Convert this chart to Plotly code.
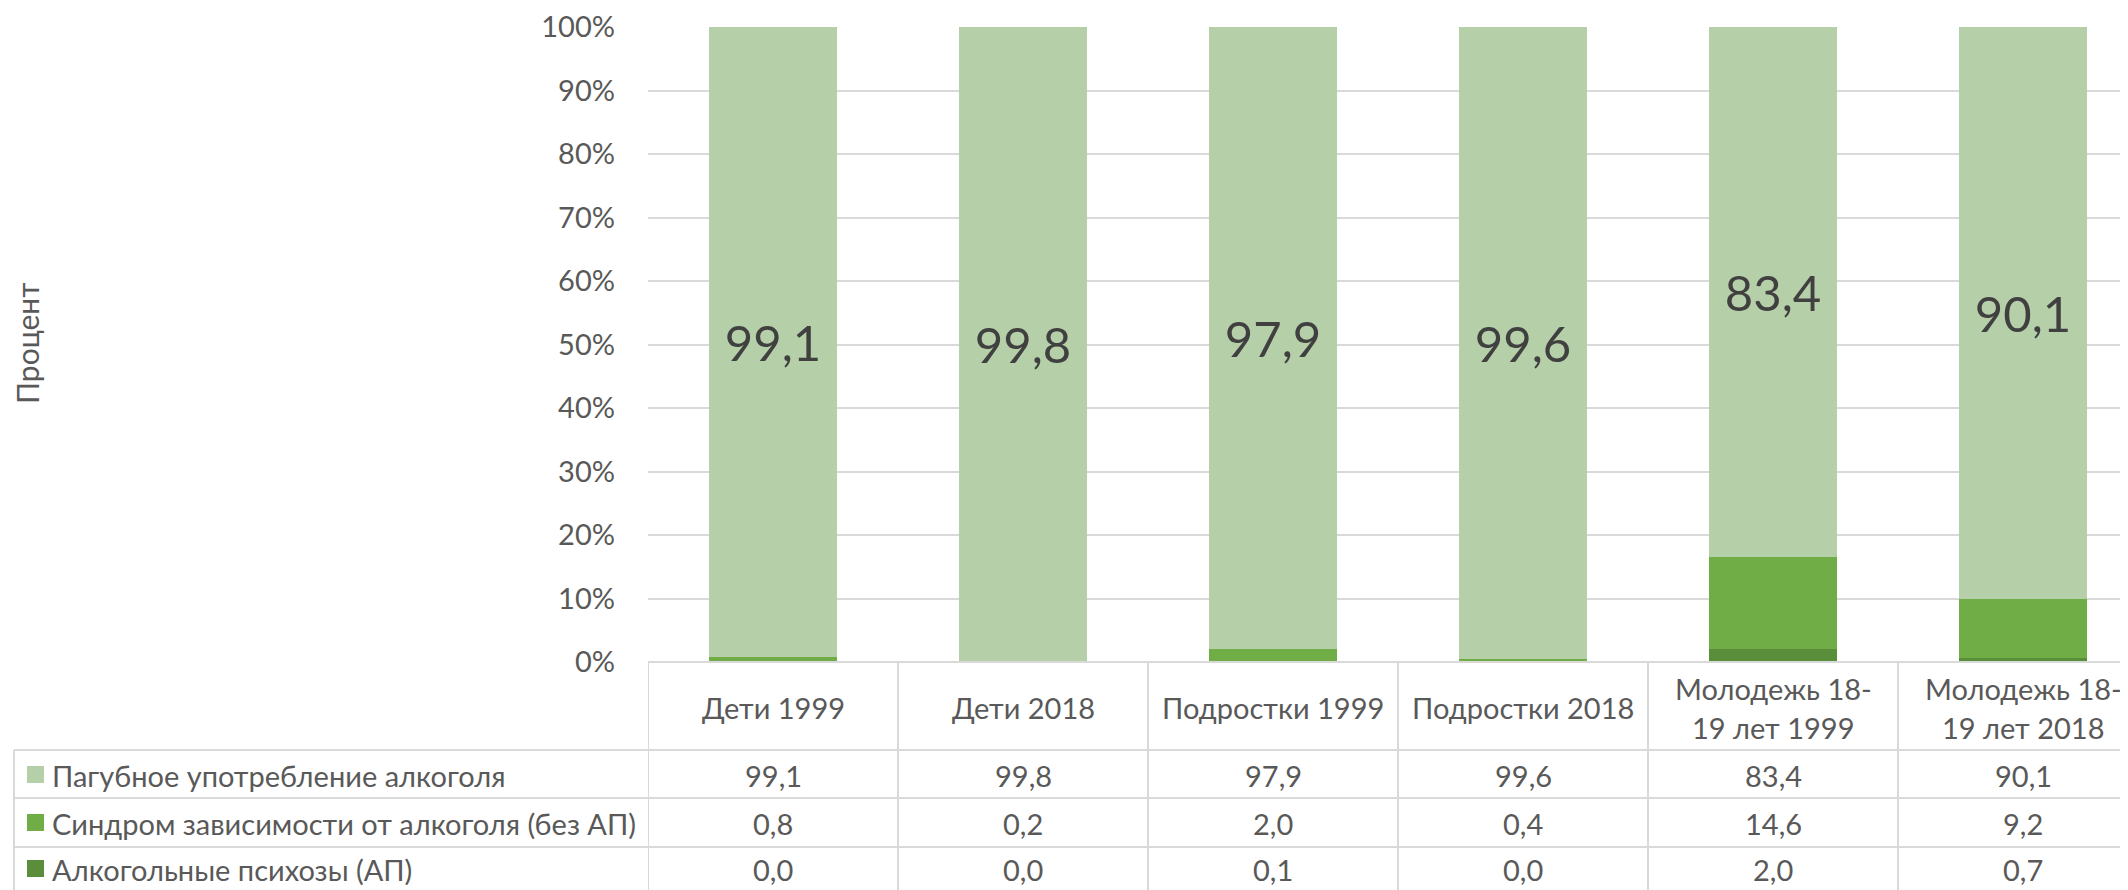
import plotly.graph_objects as go

# ---- data ----
categories = ["Дети 1999", "Дети 2018", "Подростки 1999", "Подростки 2018",
              "Молодежь 18-19 лет 1999", "Молодежь 18-19 лет 2018"]
header_lines = [["Дети 1999"], ["Дети 2018"], ["Подростки 1999"], ["Подростки 2018"],
                ["Молодежь 18-", "19 лет 1999"], ["Молодежь 18-", "19 лет 2018"]]
series_names = ["Пагубное употребление алкоголя",
                "Синдром зависимости от алкоголя (без АП)",
                "Алкогольные психозы (АП)"]
harmful = [99.1, 99.8, 97.9, 99.6, 83.4, 90.1]
dependence = [0.8, 0.2, 2.0, 0.4, 14.6, 9.2]
psychoses = [0.0, 0.0, 0.1, 0.0, 2.0, 0.7]
y_tick_vals = [0, 10, 20, 30, 40, 50, 60, 70, 80, 90, 100]
y_tick_text = ["0%", "10%", "20%", "30%", "40%", "50%", "60%", "70%", "80%", "90%", "100%"]
y_title = "Процент"

colors = {"harmful": "#B5CFA8", "dependence": "#70AD47", "psychoses": "#5A8E3A"}

FONT = "Lato"
OFF = 8  # page body margin
W, H = 2120, 882
L, R, T = 640, 0, 19
PLOT_BOTTOM = 654  # figure px
B = H - PLOT_BOTTOM
PW = W - L - R
PH = H - T - B
COL = 250.0  # px per category


def fmt(v):
    return f"{v:.1f}".replace(".", ",")


def px_x(p):  # page px -> paper
    return (p - OFF - L) / PW


def px_y(p):  # page px -> paper
    return (H - B - (p - OFF)) / PH


fig = go.Figure()
fig.add_trace(go.Bar(x=categories, y=psychoses, name=series_names[2],
                     marker=dict(color=colors["psychoses"], line=dict(width=0)),
                     textposition="none", width=0.51))
fig.add_trace(go.Bar(x=categories, y=dependence, name=series_names[1],
                     marker=dict(color=colors["dependence"], line=dict(width=0)),
                     textposition="none", width=0.51))
fig.add_trace(go.Bar(x=categories, y=harmful, name=series_names[0],
                     marker=dict(color=colors["harmful"], line=dict(width=0)),
                     text=[fmt(v) for v in harmful], textposition="inside",
                     insidetextanchor="middle",
                     textfont=dict(family=FONT, size=49, color="#404040"),
                     width=0.51))

grid = "#D9D9D9"
xr1 = -0.5 + PW / COL
fig.update_layout(
    width=W, height=H,
    margin=dict(l=L, r=R, t=T, b=B),
    barmode="stack", barnorm="percent",
    showlegend=False, hovermode=False,
    plot_bgcolor="white", paper_bgcolor="white",
    font=dict(family=FONT, color="#595959"),
    xaxis=dict(range=[-0.5, xr1], showticklabels=False, showgrid=False,
               zeroline=False, showline=False, ticks=""),
    yaxis=dict(range=[0, 100], tickmode="array", tickvals=y_tick_vals, ticktext=y_tick_text,
               tickfont=dict(family=FONT, size=29, color="#595959"),
               showgrid=True, gridcolor=grid, gridwidth=1.5,
               zeroline=False, showline=False, ticks="", ticklabelstandoff=32),
)

shapes = []
line = dict(color=grid, width=2)
# axis baseline
shapes.append(dict(type="line", xref="paper", yref="paper", x0=0, x1=1, y0=0, y1=0, line=line))
# vertical column borders
for i in range(len(categories) + 1):
    xv = -0.5 + i
    shapes.append(dict(type="line", xref="x", yref="paper", x0=xv, x1=xv,
                       y0=0, y1=px_y(900), line=line))
# horizontal row borders
row_lines = [750, 798, 847]
for ry in row_lines:
    shapes.append(dict(type="line", xref="paper", yref="paper", x0=px_x(14), x1=1,
                       y0=px_y(ry), y1=px_y(ry), line=line))
# left border of legend part
shapes.append(dict(type="line", xref="paper", yref="paper", x0=px_x(14), x1=px_x(14),
                   y0=px_y(750), y1=px_y(900), line=line))

row_centers = [775, 823, 869]
row_series = [harmful, dependence, psychoses]
row_colors = [colors["harmful"], colors["dependence"], colors["psychoses"]]

annotations = []
for rc, col in zip(row_centers, row_colors):
    shapes.append(dict(type="rect", xref="paper", yref="paper",
                       x0=px_x(27), x1=px_x(44), y0=px_y(rc - 9), y1=px_y(rc + 8),
                       fillcolor=col, line=dict(width=0)))

TF = dict(family=FONT, size=29, color="#595959")
for name, rc in zip(series_names, row_centers):
    annotations.append(dict(xref="paper", yref="paper", x=px_x(50), y=px_y(rc),
                            xanchor="left", yanchor="middle", showarrow=False,
                            text=name, font=TF))

for vals, rc in zip(row_series, row_centers):
    for i, v in enumerate(vals):
        annotations.append(dict(xref="x", yref="paper", x=i, y=px_y(rc),
                                xanchor="center", yanchor="middle", showarrow=False,
                                text=fmt(v), font=TF))

for i, lines in enumerate(header_lines):
    ys = [707] if len(lines) == 1 else [688, 727]
    for txt, yy in zip(lines, ys):
        annotations.append(dict(xref="x", yref="paper", x=i, y=px_y(yy),
                                xanchor="center", yanchor="middle", showarrow=False,
                                text=txt, font=TF))

annotations.append(dict(xref="paper", yref="paper", x=px_x(27), y=px_y(344),
                        xanchor="center", yanchor="middle", showarrow=False, textangle=-90,
                        text=y_title, font=dict(family=FONT, size=30, color="#595959")))

fig.update_layout(shapes=shapes, annotations=annotations)
fig.write_html("out.html")
